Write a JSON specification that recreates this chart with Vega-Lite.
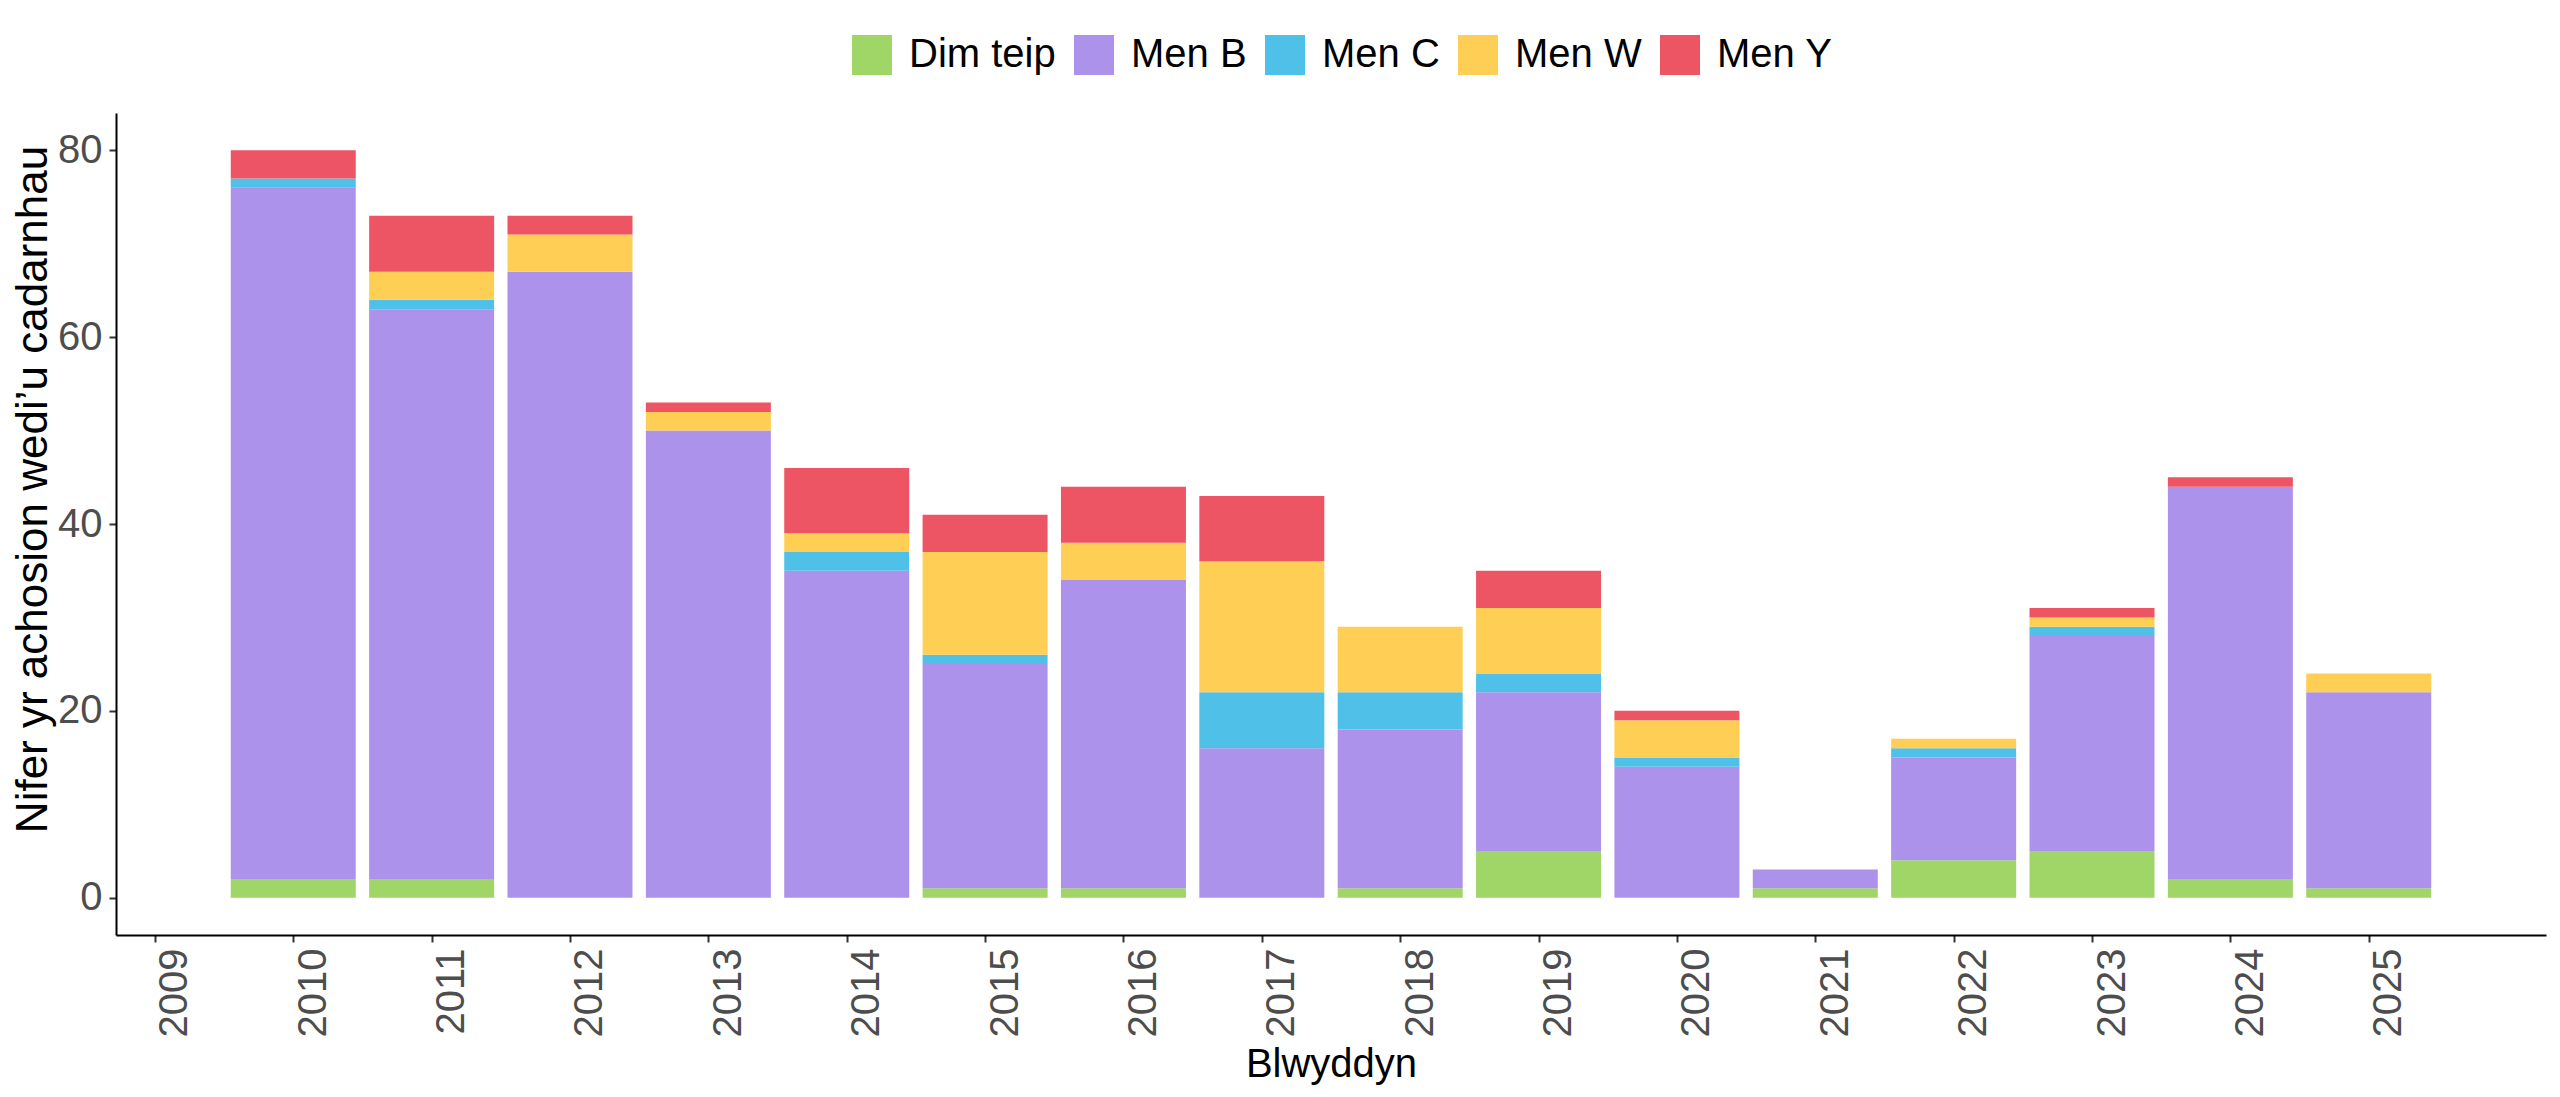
{
  "$schema": "https://vega.github.io/schema/vega-lite/v6.json",
  "width": 2430,
  "height": 822,
  "autosize": {"type": "none"},
  "padding": {"left": 116, "top": 113, "right": 14, "bottom": 162},
  "background": "white",
  "config": {
    "view": {"stroke": null},
    "font": "Liberation Sans",
    "axis": {
      "grid": false,
      "domainColor": "black",
      "domainWidth": 2,
      "tickColor": "#333333",
      "tickWidth": 2,
      "tickSize": 7,
      "labelColor": "#4D4D4D",
      "labelFont": "Liberation Sans",
      "labelFontSize": 40,
      "titleFont": "Liberation Sans",
      "titleFontSize": 40,
      "titleFontWeight": "normal",
      "titleColor": "black"
    }
  },
  "data": {
    "values": [
      {"year": 2010, "type": "Dim teip", "count": 2},
      {"year": 2010, "type": "Men B", "count": 74},
      {"year": 2010, "type": "Men C", "count": 1},
      {"year": 2010, "type": "Men Y", "count": 3},
      {"year": 2011, "type": "Dim teip", "count": 2},
      {"year": 2011, "type": "Men B", "count": 61},
      {"year": 2011, "type": "Men C", "count": 1},
      {"year": 2011, "type": "Men W", "count": 3},
      {"year": 2011, "type": "Men Y", "count": 6},
      {"year": 2012, "type": "Men B", "count": 67},
      {"year": 2012, "type": "Men W", "count": 4},
      {"year": 2012, "type": "Men Y", "count": 2},
      {"year": 2013, "type": "Men B", "count": 50},
      {"year": 2013, "type": "Men W", "count": 2},
      {"year": 2013, "type": "Men Y", "count": 1},
      {"year": 2014, "type": "Men B", "count": 35},
      {"year": 2014, "type": "Men C", "count": 2},
      {"year": 2014, "type": "Men W", "count": 2},
      {"year": 2014, "type": "Men Y", "count": 7},
      {"year": 2015, "type": "Dim teip", "count": 1},
      {"year": 2015, "type": "Men B", "count": 24},
      {"year": 2015, "type": "Men C", "count": 1},
      {"year": 2015, "type": "Men W", "count": 11},
      {"year": 2015, "type": "Men Y", "count": 4},
      {"year": 2016, "type": "Dim teip", "count": 1},
      {"year": 2016, "type": "Men B", "count": 33},
      {"year": 2016, "type": "Men W", "count": 4},
      {"year": 2016, "type": "Men Y", "count": 6},
      {"year": 2017, "type": "Men B", "count": 16},
      {"year": 2017, "type": "Men C", "count": 6},
      {"year": 2017, "type": "Men W", "count": 14},
      {"year": 2017, "type": "Men Y", "count": 7},
      {"year": 2018, "type": "Dim teip", "count": 1},
      {"year": 2018, "type": "Men B", "count": 17},
      {"year": 2018, "type": "Men C", "count": 4},
      {"year": 2018, "type": "Men W", "count": 7},
      {"year": 2019, "type": "Dim teip", "count": 5},
      {"year": 2019, "type": "Men B", "count": 17},
      {"year": 2019, "type": "Men C", "count": 2},
      {"year": 2019, "type": "Men W", "count": 7},
      {"year": 2019, "type": "Men Y", "count": 4},
      {"year": 2020, "type": "Men B", "count": 14},
      {"year": 2020, "type": "Men C", "count": 1},
      {"year": 2020, "type": "Men W", "count": 4},
      {"year": 2020, "type": "Men Y", "count": 1},
      {"year": 2021, "type": "Dim teip", "count": 1},
      {"year": 2021, "type": "Men B", "count": 2},
      {"year": 2022, "type": "Dim teip", "count": 4},
      {"year": 2022, "type": "Men B", "count": 11},
      {"year": 2022, "type": "Men C", "count": 1},
      {"year": 2022, "type": "Men W", "count": 1},
      {"year": 2023, "type": "Dim teip", "count": 5},
      {"year": 2023, "type": "Men B", "count": 23},
      {"year": 2023, "type": "Men C", "count": 1},
      {"year": 2023, "type": "Men W", "count": 1},
      {"year": 2023, "type": "Men Y", "count": 1},
      {"year": 2024, "type": "Dim teip", "count": 2},
      {"year": 2024, "type": "Men B", "count": 42},
      {"year": 2024, "type": "Men Y", "count": 1},
      {"year": 2025, "type": "Dim teip", "count": 1},
      {"year": 2025, "type": "Men B", "count": 21},
      {"year": 2025, "type": "Men W", "count": 2}
    ]
  },
  "mark": {"type": "bar", "width": 125},
  "encoding": {
    "x": {
      "field": "year",
      "type": "quantitative",
      "scale": {"domain": [2008.755, 2026.245], "nice": false, "zero": false},
      "axis": {
        "title": "Blwyddyn",
        "values": [2009, 2010, 2011, 2012, 2013, 2014, 2015, 2016, 2017, 2018, 2019, 2020, 2021, 2022, 2023, 2024, 2025],
        "format": "d",
        "labelAngle": 270,
        "labelAlign": "right",
        "labelBaseline": "top",
        "labelPadding": 6,
        "labelFlush": false,
        "labelOverlap": false,
        "titlePadding": 8
      }
    },
    "y": {
      "field": "count",
      "type": "quantitative",
      "stack": "zero",
      "scale": {"domain": [-4, 84], "nice": false, "zero": false},
      "axis": {
        "title": "Nifer yr achosion wedi’u cadarnhau",
        "values": [0, 20, 40, 60, 80],
        "labelPadding": 7,
        "titleFontSize": 44,
        "titleAngle": 270,
        "titleAlign": "center",
        "titleBaseline": "alphabetic",
        "titleX": -70,
        "titleY": 376
      }
    },
    "color": {
      "field": "type",
      "type": "nominal",
      "scale": {
        "domain": ["Dim teip", "Men B", "Men C", "Men W", "Men Y"],
        "range": ["#A0D568", "#AC92EB", "#4FC1E8", "#FFCE54", "#ED5564"]
      },
      "legend": {
        "title": null,
        "orient": "none",
        "direction": "horizontal",
        "columns": 5,
        "legendX": 736,
        "legendY": -78,
        "padding": 0,
        "symbolType": "square",
        "symbolSize": 1600,
        "symbolStrokeWidth": 0,
        "symbolOpacity": 1,
        "labelFont": "Liberation Sans",
        "labelFontSize": 40,
        "labelColor": "black",
        "labelOffset": 17,
        "columnPadding": 18,
        "labelLimit": 400
      }
    },
    "order": {"field": "type", "sort": "ascending"}
  }
}
